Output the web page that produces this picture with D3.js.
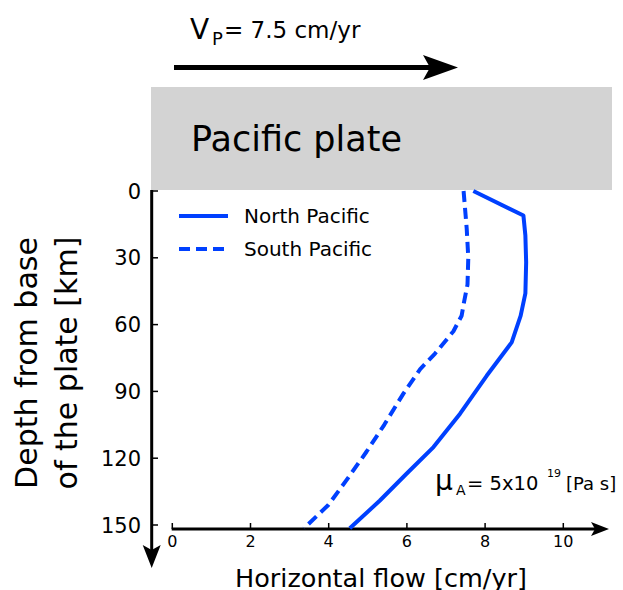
<!DOCTYPE html>
<html>
<head>
<meta charset="utf-8">
<script src="https://cdn.jsdelivr.net/npm/d3@7"></script>
<style>
  body { margin: 0; background: #fff; }
  svg text { font-family: "DejaVu Sans", sans-serif; fill: #000; }
</style>
</head>
<body>
<div id="chart"></div>
<script>
// depth below plate base [km] and horizontal flow [cm/yr]
const northDepth = [0, 11, 20, 32, 46, 56, 68, 83, 100, 115, 127, 139, 151.5];
const northFlow  = [7.7, 8.98, 9.03, 9.05, 9.03, 8.91, 8.68, 8.04, 7.36, 6.68, 5.99, 5.31, 4.54];

const southDepth = [0, 17, 30, 42, 50, 56, 63, 73, 80, 91, 105, 117, 130, 141, 151.5];
const southFlow  = [7.45, 7.53, 7.57, 7.55, 7.46, 7.4, 7.19, 6.72, 6.34, 5.91, 5.42, 4.97, 4.45, 3.99, 3.37];

const depthTicks = [0, 30, 60, 90, 120, 150];
const flowTicks = [0, 2, 4, 6, 8, 10];
const seriesNames = ["North Pacific", "South Pacific"];

const width = 623, height = 590;
const blue = "#0040ff";

const svg = d3.select("#chart")
  .append("svg")
    .attr("width", width)
    .attr("height", height);

const x = d3.scaleLinear().domain([0, 10]).range([172.3, 563.3]);
const y = d3.scaleLinear().domain([0, 150]).range([191, 525]);

// plate velocity arrow
svg.append("line")
  .attr("x1", 174).attr("x2", 430)
  .attr("y1", 67.5).attr("y2", 67.5)
  .attr("stroke", "#000").attr("stroke-width", 5);
svg.append("path")
  .attr("d", "M423,55 L458,67.5 L423,80 L430,67.5 Z")
  .attr("fill", "#000");

const vp = svg.append("g");
vp.append("text").attr("x", 190).attr("y", 39).attr("font-size", 28).text("V");
vp.append("text").attr("x", 212).attr("y", 45).attr("font-size", 18).text("P");
vp.append("text").attr("x", 224).attr("y", 38).attr("font-size", 23).text("= 7.5 cm/yr");

// plate
svg.append("rect")
  .attr("x", 151).attr("y", 87)
  .attr("width", 461).attr("height", 103)
  .attr("fill", "#d3d3d3");
svg.append("text")
  .attr("x", 191).attr("y", 151)
  .attr("font-size", 35)
  .text("Pacific plate");

// y axis (depth, pointing down)
const yAxis = svg.append("g");
yAxis.append("line")
  .attr("x1", 151.7).attr("x2", 151.7)
  .attr("y1", 190).attr("y2", 552)
  .attr("stroke", "#000").attr("stroke-width", 3);
yAxis.append("path")
  .attr("d", "M142.7,545 L151.7,568 L160.7,545 L151.7,550 Z")
  .attr("fill", "#000");
yAxis.selectAll(".ytick")
  .data(depthTicks)
  .join("line")
    .attr("class", "ytick")
    .attr("x1", 151.7).attr("x2", 158)
    .attr("y1", d => y(d)).attr("y2", d => y(d))
    .attr("stroke", "#000").attr("stroke-width", 1.5);
yAxis.selectAll(".ylab")
  .data(depthTicks)
  .join("text")
    .attr("class", "ylab")
    .attr("x", 141)
    .attr("y", d => y(d))
    .attr("dy", "0.36em")
    .attr("text-anchor", "end")
    .attr("font-size", 21)
    .text(d => d);

// x axis (flow)
const xAxis = svg.append("g");
xAxis.append("line")
  .attr("x1", 171.7).attr("x2", 596)
  .attr("y1", 529).attr("y2", 529)
  .attr("stroke", "#000").attr("stroke-width", 3);
xAxis.append("path")
  .attr("d", "M591,522 L609,529 L591,536 L595,529 Z")
  .attr("fill", "#000");
xAxis.selectAll(".xtick")
  .data(flowTicks)
  .join("line")
    .attr("class", "xtick")
    .attr("x1", d => x(d)).attr("x2", d => x(d))
    .attr("y1", 523).attr("y2", 529)
    .attr("stroke", "#000").attr("stroke-width", 1.5);
xAxis.selectAll(".xlab")
  .data(flowTicks)
  .join("text")
    .attr("class", "xlab")
    .attr("x", d => x(d))
    .attr("y", 547)
    .attr("text-anchor", "middle")
    .attr("font-size", 16)
    .text(d => d);

svg.append("text")
  .attr("x", 381).attr("y", 587)
  .attr("text-anchor", "middle")
  .attr("font-size", 25.5)
  .text("Horizontal flow [cm/yr]");

const yTitle = svg.append("text")
  .attr("transform", "translate(0,363) rotate(-90)")
  .attr("text-anchor", "middle")
  .attr("font-size", 30);
yTitle.append("tspan").attr("x", 0).attr("y", 37).text("Depth from base");
yTitle.append("tspan").attr("x", 0).attr("y", 77).text("of the plate [km]");

// profiles
const line = d3.line()
  .x(d => x(d[1]))
  .y(d => y(d[0]));

const profiles = [
  { name: seriesNames[0], pts: d3.zip(northDepth, northFlow), dash: null },
  { name: seriesNames[1], pts: d3.zip(southDepth, southFlow), dash: "11,6" }
];

svg.selectAll(".profile")
  .data(profiles)
  .join("path")
    .attr("class", "profile")
    .attr("fill", "none")
    .attr("stroke", blue)
    .attr("stroke-width", 4)
    .attr("stroke-linejoin", "round")
    .attr("stroke-dasharray", d => d.dash)
    .attr("d", d => line(d.pts));

// legend
const legend = svg.selectAll(".legend")
  .data(profiles)
  .join("g")
    .attr("class", "legend")
    .attr("transform", (d, i) => `translate(179,${216 + i * 33})`);
legend.append("line")
  .attr("x1", 0).attr("x2", 49)
  .attr("stroke", blue).attr("stroke-width", 4)
  .attr("stroke-dasharray", d => d.dash);
legend.append("text")
  .attr("x", 65).attr("dy", "0.36em")
  .attr("font-size", 20)
  .text(d => d.name);

// viscosity annotation
const mu = svg.append("g");
mu.append("text").attr("x", 435).attr("y", 490).attr("font-size", 28).text("μ");
mu.append("text").attr("x", 456).attr("y", 495).attr("font-size", 14).text("A");
mu.append("text").attr("x", 467).attr("y", 490).attr("font-size", 19.5).text("= 5x10");
mu.append("text").attr("x", 547).attr("y", 477).attr("font-size", 11).text("19");
mu.append("text").attr("x", 566).attr("y", 490).attr("font-size", 18).text("[Pa s]");
</script>
</body>
</html>
